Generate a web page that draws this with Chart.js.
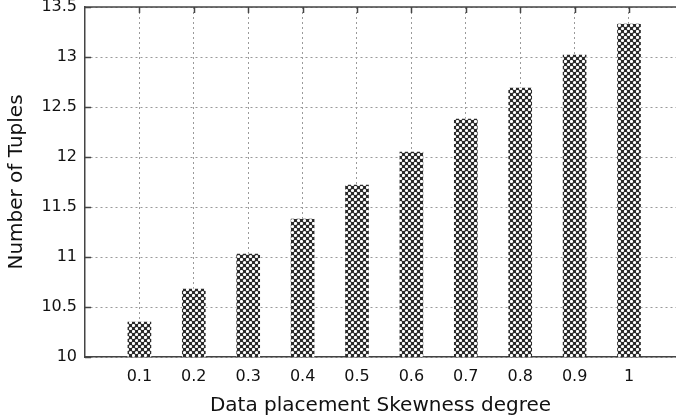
<!DOCTYPE html>
<html>
<head>
<meta charset="utf-8">
<script src="https://cdn.jsdelivr.net/npm/chart.js@4.4.0/dist/chart.umd.min.js"></script>
<style>
	html, body { margin: 0; padding: 0; background: #fff; }
	#wrap { width: 676px; height: 419px; position: relative; }
</style>
</head>
<body>
<div id="wrap"><canvas id="skewChart" width="676" height="419"></canvas></div>
<script>
// skewness degree on x, number of tuples on y
var skewness = [0.1, 0.2, 0.3, 0.4, 0.5, 0.6, 0.7, 0.8, 0.9, 1];
var tuples = [10.35, 10.68, 11.03, 11.38, 11.72, 12.05, 12.38, 12.69, 13.02, 13.33];
var yTicks = [10, 10.5, 11, 11.5, 12, 12.5, 13, 13.5];

var font = "'DejaVu Sans', Verdana, sans-serif";

// crosshatch fill like the gnuplot pattern
function makePattern() {
	var c = document.createElement('canvas');
	c.width = 6;
	c.height = 6;
	var p = c.getContext('2d');
	p.fillStyle = '#2a2a2a';
	p.fillRect(0, 0, 6, 6);
	p.fillStyle = '#ffffff';
	p.beginPath();
	p.arc(1.5, 1.5, 1.6, 0, Math.PI * 2);
	p.arc(4.5, 4.5, 1.6, 0, Math.PI * 2);
	p.fill();
	return p.createPattern(c, 'repeat');
}

var data = [];
for(var i = 0; i < skewness.length; i++) {
	data.push({ x: skewness[i], y: tuples[i] });
}

// top frame line with inward ticks, left inward ticks
var framePlugin = {
	id: 'frame',
	afterDatasetsDraw: function(chart) {
		var ctx = chart.ctx;
		var a = chart.chartArea;
		var xs = chart.scales.x;
		var ys = chart.scales.y;
		ctx.save();
		ctx.strokeStyle = '#444';
		ctx.lineWidth = 1.5;
		ctx.beginPath();
		ctx.moveTo(a.left, a.top);
		ctx.lineTo(a.right, a.top);
		for(var v of skewness) {
			var px = Math.round(xs.getPixelForValue(v)) + 0.5;
			ctx.moveTo(px, a.top);
			ctx.lineTo(px, a.top + 6);
		}
		for(var t of yTicks) {
			var py = Math.round(ys.getPixelForValue(t)) + 0.5;
			ctx.moveTo(a.left, py);
			ctx.lineTo(a.left + 6, py);
		}
		ctx.stroke();
		ctx.restore();
	}
};

var ctx = document.getElementById('skewChart').getContext('2d');
var chart = new Chart(ctx, {
	type: 'bar',
	data: {
		datasets: [{
			label: 'Number of Tuples',
			data: data,
			backgroundColor: makePattern(),
			borderWidth: 0,
			barThickness: 23
		}]
	},
	options: {
		responsive: false,
		animation: false,
		layout: { padding: 0 },
		plugins: {
			legend: { display: false },
			tooltip: { enabled: false }
		},
		scales: {
			x: {
				type: 'linear',
				offset: false,
				min: 0,
				max: 1.0864,
				afterBuildTicks: function(scale) {
					scale.ticks = skewness.map(function(v) { return { value: v }; });
				},
				afterFit: function(scale) {
					scale.height = 62;
					scale.paddingLeft = 0;
					scale.paddingRight = 0;
				},
				ticks: {
					font: { family: font, size: 16 },
					color: '#111',
					padding: 10,
					maxRotation: 0,
					autoSkip: false,
					callback: function(v) { return v === 1 ? '1' : v.toFixed(1); }
				},
				grid: {
					offset: false,
					color: '#9a9a9a',
					lineWidth: 1,
					drawTicks: false
				},
				border: { display: true, color: '#444', width: 1.5, dash: [2, 3] },
				title: {
					display: true,
					text: 'Data placement Skewness degree',
					font: { family: font, size: 20 },
					color: '#111',
					padding: { top: 4, bottom: 1 }
				}
			},
			y: {
				min: 10,
				max: 13.5,
				afterBuildTicks: function(scale) {
					scale.ticks = yTicks.map(function(v) { return { value: v }; });
				},
				afterFit: function(scale) {
					scale.width = 85;
					scale.paddingTop = 7;
					scale.paddingBottom = 0;
				},
				ticks: {
					font: { family: font, size: 16 },
					color: '#111',
					padding: 8,
					callback: function(v) { return String(v); }
				},
				grid: {
					color: '#9a9a9a',
					lineWidth: 1,
					drawTicks: false
				},
				border: { display: true, color: '#444', width: 1.5, dash: [2, 3] },
				title: {
					display: true,
					text: 'Number of Tuples',
					font: { family: font, size: 20 },
					color: '#111',
					padding: { top: 5, bottom: 0 }
				}
			}
		}
	},
	plugins: [framePlugin]
});
</script>
</body>
</html>
